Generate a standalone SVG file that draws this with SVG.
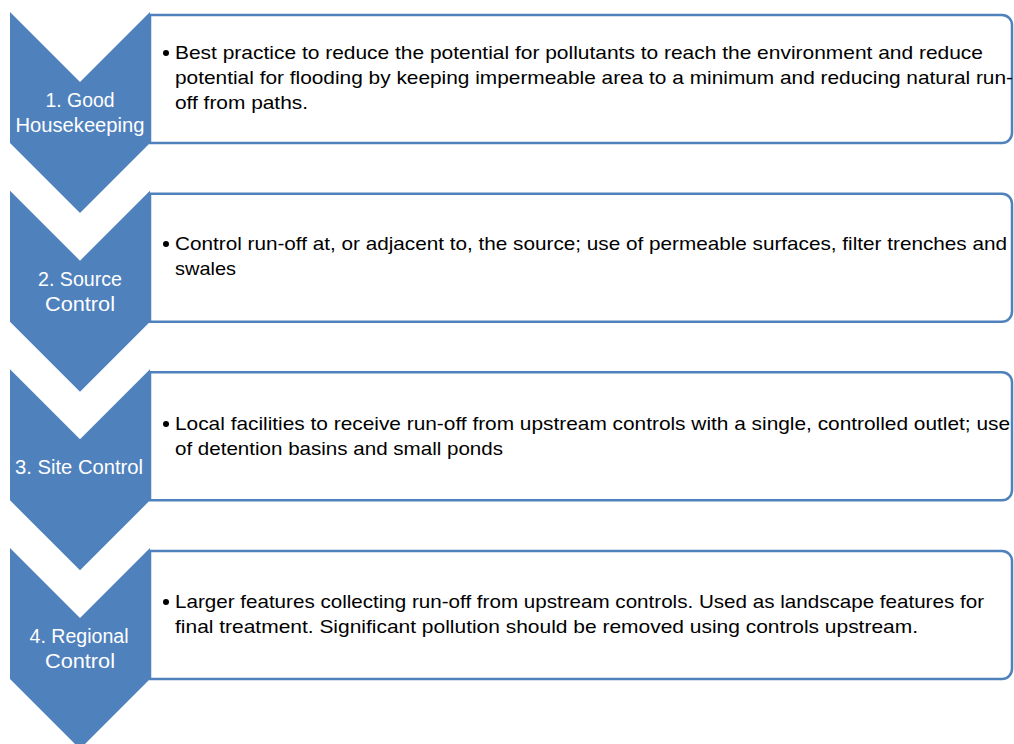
<svg xmlns="http://www.w3.org/2000/svg" width="1014" height="744" viewBox="0 0 1014 744">
<style>
.box{fill:#ffffff;stroke:#4F81BD;stroke-width:2.5}
.chev{fill:#4F81BD;stroke:none}
.lbl{font-family:"Liberation Sans",Arial,sans-serif;font-size:19.5px;fill:#ffffff;text-anchor:middle}
.txt{font-family:"Liberation Sans",Arial,sans-serif;font-size:18.5px;fill:#000000}
.bul{fill:#000000}
</style>
<rect width="1014" height="744" fill="#ffffff"/>
<g id="step1">
<path class="box" d="M150,15 H1002 A10,10 0 0 1 1012,25 V133 A10,10 0 0 1 1002,143 H150 Z"/>
<path class="chev" d="M10,12 L80,82 L150,12 L150,143 L80,213 L10,143 Z"/>
<text class="lbl" x="80" y="107" textLength="69" lengthAdjust="spacingAndGlyphs">1. Good</text>
<text class="lbl" x="80" y="132" textLength="129" lengthAdjust="spacingAndGlyphs">Housekeeping</text>
<circle class="bul" cx="166" cy="53" r="3"/>
<text class="txt" x="175" y="59" textLength="808" lengthAdjust="spacingAndGlyphs">Best practice to reduce the potential for pollutants to reach the environment and reduce</text>
<text class="txt" x="175" y="84" textLength="838" lengthAdjust="spacingAndGlyphs">potential for flooding by keeping impermeable area to a minimum and reducing natural run-</text>
<text class="txt" x="175" y="109" textLength="133" lengthAdjust="spacingAndGlyphs">off from paths.</text>
</g>
<g id="step2">
<path class="box" d="M150,193.7 H1002 A10,10 0 0 1 1012,203.7 V311.7 A10,10 0 0 1 1002,321.7 H150 Z"/>
<path class="chev" d="M10,190.7 L80,260.7 L150,190.7 L150,321.7 L80,391.7 L10,321.7 Z"/>
<text class="lbl" x="80" y="286" textLength="84" lengthAdjust="spacingAndGlyphs">2. Source</text>
<text class="lbl" x="80" y="311" textLength="70" lengthAdjust="spacingAndGlyphs">Control</text>
<circle class="bul" cx="166" cy="244" r="3"/>
<text class="txt" x="175" y="250" textLength="832" lengthAdjust="spacingAndGlyphs">Control run-off at, or adjacent to, the source; use of permeable surfaces, filter trenches and</text>
<text class="txt" x="175" y="275" textLength="61" lengthAdjust="spacingAndGlyphs">swales</text>
</g>
<g id="step3">
<path class="box" d="M150,372.3 H1002 A10,10 0 0 1 1012,382.3 V490.3 A10,10 0 0 1 1002,500.3 H150 Z"/>
<path class="chev" d="M10,369.3 L80,439.3 L150,369.3 L150,500.3 L80,570.3 L10,500.3 Z"/>
<text class="lbl" x="79" y="474" textLength="128" lengthAdjust="spacingAndGlyphs">3. Site Control</text>
<circle class="bul" cx="166" cy="424" r="3"/>
<text class="txt" x="175" y="430" textLength="835" lengthAdjust="spacingAndGlyphs">Local facilities to receive run-off from upstream controls with a single, controlled outlet; use</text>
<text class="txt" x="175" y="455" textLength="328" lengthAdjust="spacingAndGlyphs">of detention basins and small ponds</text>
</g>
<g id="step4">
<path class="box" d="M150,551 H1002 A10,10 0 0 1 1012,561 V669 A10,10 0 0 1 1002,679 H150 Z"/>
<path class="chev" d="M10,548 L80,618 L150,548 L150,679 L80,749 L10,679 Z"/>
<text class="lbl" x="79" y="643" textLength="99" lengthAdjust="spacingAndGlyphs">4. Regional</text>
<text class="lbl" x="80" y="668" textLength="70" lengthAdjust="spacingAndGlyphs">Control</text>
<circle class="bul" cx="166" cy="602" r="3"/>
<text class="txt" x="175" y="608" textLength="809" lengthAdjust="spacingAndGlyphs">Larger features collecting run-off from upstream controls. Used as landscape features for</text>
<text class="txt" x="175" y="633" textLength="743" lengthAdjust="spacingAndGlyphs">final treatment. Significant pollution should be removed using controls upstream.</text>
</g>
<g id="connectors"></g>
</svg>
